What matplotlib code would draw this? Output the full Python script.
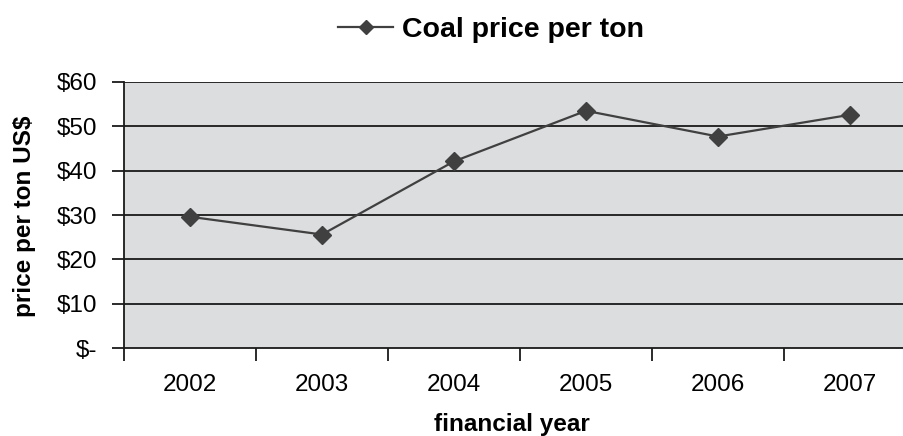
import matplotlib
matplotlib.use('Agg')
import matplotlib.pyplot as plt
import numpy as np

plt.rcParams['font.family'] = ['Liberation Sans', 'DejaVu Sans']

# values
years = ['2002', '2003', '2004', '2005', '2006', '2007']
price = [29.6, 25.6, 42.1, 53.5, 47.7, 52.6]
yticks = [0, 10, 20, 30, 40, 50, 60]
ytick_labels = ['$-', '$10', '$20', '$30', '$40', '$50', '$60']

W, H = 904, 436
fig = plt.figure(figsize=(W / 100, H / 100), dpi=100)
# plot area runs slightly past the right edge of the picture, like the original
ax = fig.add_axes([124 / W, 1 - 348 / H, 792 / W, 266 / H])
ax.set_facecolor('#dcdddf')

x = np.arange(len(years))
ax.plot(x, price, color='#404040', lw=1.6, marker='D', markersize=9.5,
        markerfacecolor='#404040', markeredgecolor='#404040',
        label='Coal price per ton', zorder=3)

ax.set_xlim(-0.5, len(years) - 0.5)
ax.set_ylim(0, 60)

ax.set_yticks(yticks)
ax.set_yticklabels(ytick_labels)
for v in yticks[1:]:
    ax.axhline(v, color='#1a1a1a', lw=1.3, zorder=1)

ax.set_xticks(x)
ax.set_xticklabels(years)
ax.set_xticks(np.arange(-0.5, len(years), 1), minor=True)
ax.tick_params(axis='x', which='major', length=0, pad=19, labelsize=17.5)
ax.tick_params(axis='x', which='minor', length=9, width=1.3, color='#1a1a1a')
ax.tick_params(axis='y', length=9, width=1.3, color='#1a1a1a', labelsize=17.5, pad=10)

for s in ['top', 'right']:
    ax.spines[s].set_visible(False)
for s in ['left', 'bottom']:
    ax.spines[s].set_color('#1a1a1a')
    ax.spines[s].set_linewidth(1.3)

ax.set_xlabel('financial year', fontsize=17.5, fontweight='bold', va='center')
ax.xaxis.set_label_coords(512 / W, 1 - 424 / H, transform=fig.transFigure)
ax.set_ylabel('price per ton US$', fontsize=17.5, fontweight='bold', va='center')
ax.yaxis.set_label_coords(25 / W, 1 - 216 / H, transform=fig.transFigure)

leg = ax.legend(loc='center', bbox_to_anchor=(491 / W, 1 - 30 / H),
                bbox_transform=fig.transFigure, frameon=False,
                handlelength=1.95, handletextpad=0.3, markerscale=0.75,
                prop={'size': 20.5, 'weight': 'bold'})

fig.savefig('out.png', dpi=100)
